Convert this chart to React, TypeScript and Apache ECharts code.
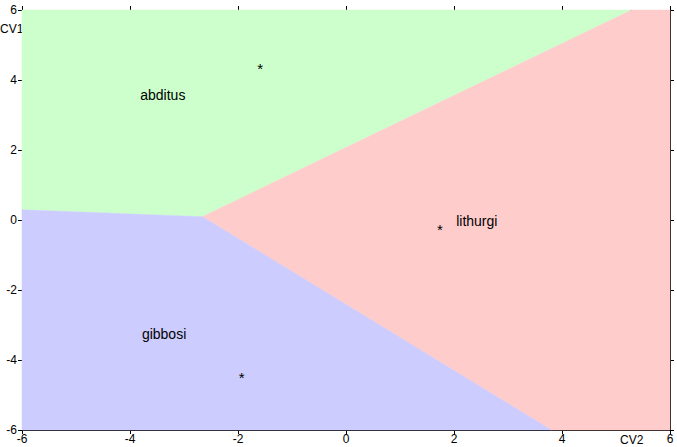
import React, { useEffect, useRef } from "react";
import * as echarts from "echarts";

const xTicks = [-6, -4, -2, 0, 2, 4, 6];
const yTicks = [-6, -4, -2, 0, 2, 4, 6];
const groupNames = ["abditus", "lithurgi", "gibbosi"];
const groupColors = ["#CCFFCC", "#FFCCCC", "#CCCCFF"];
// decision regions (CV2, CV1) vertices
const abditusRegion = [[-6, 0.29], [-2.66, 0.094], [5.29, 6], [-6, 6]];
const lithurgiRegion = [[-2.66, 0.094], [5.29, 6], [6, 6], [6, -6], [3.8, -6]];
const gibbosiRegion = [[-6, 0.29], [-2.66, 0.094], [3.8, -6], [-6, -6]];
const regions = [abditusRegion, lithurgiRegion, gibbosiRegion];
// group means
const centroidX = [-1.59, 1.74, -1.93];
const centroidY = [4.38, -0.21, -4.43];
// label anchors (left edge)
const labelX = [-3.81, 2.04, -3.78];
const labelY = [3.57, -0.02, -3.26];

const FONT = "'Liberation Sans', Arial, sans-serif";

export default function App() {
  const ref = useRef<HTMLDivElement>(null);
  useEffect(() => {
    if (!ref.current) return;
    document.body.style.margin = "0";
    const chart = echarts.init(ref.current, null, { renderer: "svg" });
    const axisCommon = {
      type: "value" as const,
      min: -6,
      max: 6,
      interval: 2,
      axisLine: { show: true, onZero: false, lineStyle: { color: "#000", width: 1 } },
      axisTick: { show: true, length: 4, lineStyle: { color: "#000", width: 1 } },
      splitLine: { show: false },
    };
    const labelCommon = { color: "#000", fontSize: 12, fontFamily: FONT };
    chart.setOption({
      animation: false,
      backgroundColor: "#fff",
      grid: { left: 22, right: 7, top: 10, bottom: 17, show: false },
      xAxis: [
        {
          ...axisCommon,
          position: "bottom",
          axisLabel: { ...labelCommon, margin: 3, formatter: (v: number) => (xTicks.includes(v) ? String(v) : "") },
        },
        { ...axisCommon, position: "top", axisLabel: { show: false } },
      ],
      yAxis: [
        {
          ...axisCommon,
          position: "left",
          axisLabel: { ...labelCommon, margin: 5, formatter: (v: number) => (yTicks.includes(v) ? String(v) : "") },
        },
        { ...axisCommon, position: "right", axisLabel: { show: false } },
      ],
      series: [
        {
          type: "custom",
          coordinateSystem: "cartesian2d",
          silent: true,
          z: 1,
          data: regions.map((r, i) => [r[0][0], r[0][1], i]),
          renderItem: (params: any, api: any) => {
            const i = params.dataIndex;
            return {
              type: "polygon",
              shape: { points: regions[i].map((p) => api.coord(p)) },
              style: { fill: groupColors[i], stroke: groupColors[i], lineWidth: 0.5 },
            };
          },
        },
        {
          type: "custom",
          coordinateSystem: "cartesian2d",
          silent: true,
          z: 3,
          data: groupNames.map((n, i) => [labelX[i], labelY[i], i]),
          renderItem: (params: any, api: any) => {
            const i = params.dataIndex;
            const c = api.coord([labelX[i], labelY[i]]);
            return {
              type: "text",
              x: c[0],
              y: c[1],
              style: {
                text: groupNames[i],
                fill: "#000",
                font: `14px ${FONT}`,
                align: "left",
                verticalAlign: "middle",
              },
            };
          },
        },
        {
          type: "custom",
          coordinateSystem: "cartesian2d",
          silent: true,
          z: 3,
          data: centroidX.map((x, i) => [x, centroidY[i], i]),
          renderItem: (params: any, api: any) => {
            const i = params.dataIndex;
            const c = api.coord([centroidX[i], centroidY[i]]);
            return {
              type: "text",
              x: c[0],
              y: c[1] + 2,
              style: {
                text: "*",
                fill: "#000",
                font: `15px ${FONT}`,
                align: "center",
                verticalAlign: "middle",
              },
            };
          },
        },
      ],
      graphic: [
        {
          type: "text",
          left: 0,
          top: 23,
          style: { text: "CV1", fill: "#000", font: `12px ${FONT}` },
        },
        {
          type: "text",
          left: 620,
          top: 434,
          style: { text: "CV2", fill: "#000", font: `12px ${FONT}` },
        },
      ],
    });
    return () => chart.dispose();
  }, []);
  return <div ref={ref} style={{ width: 677, height: 447 }} />;
}
